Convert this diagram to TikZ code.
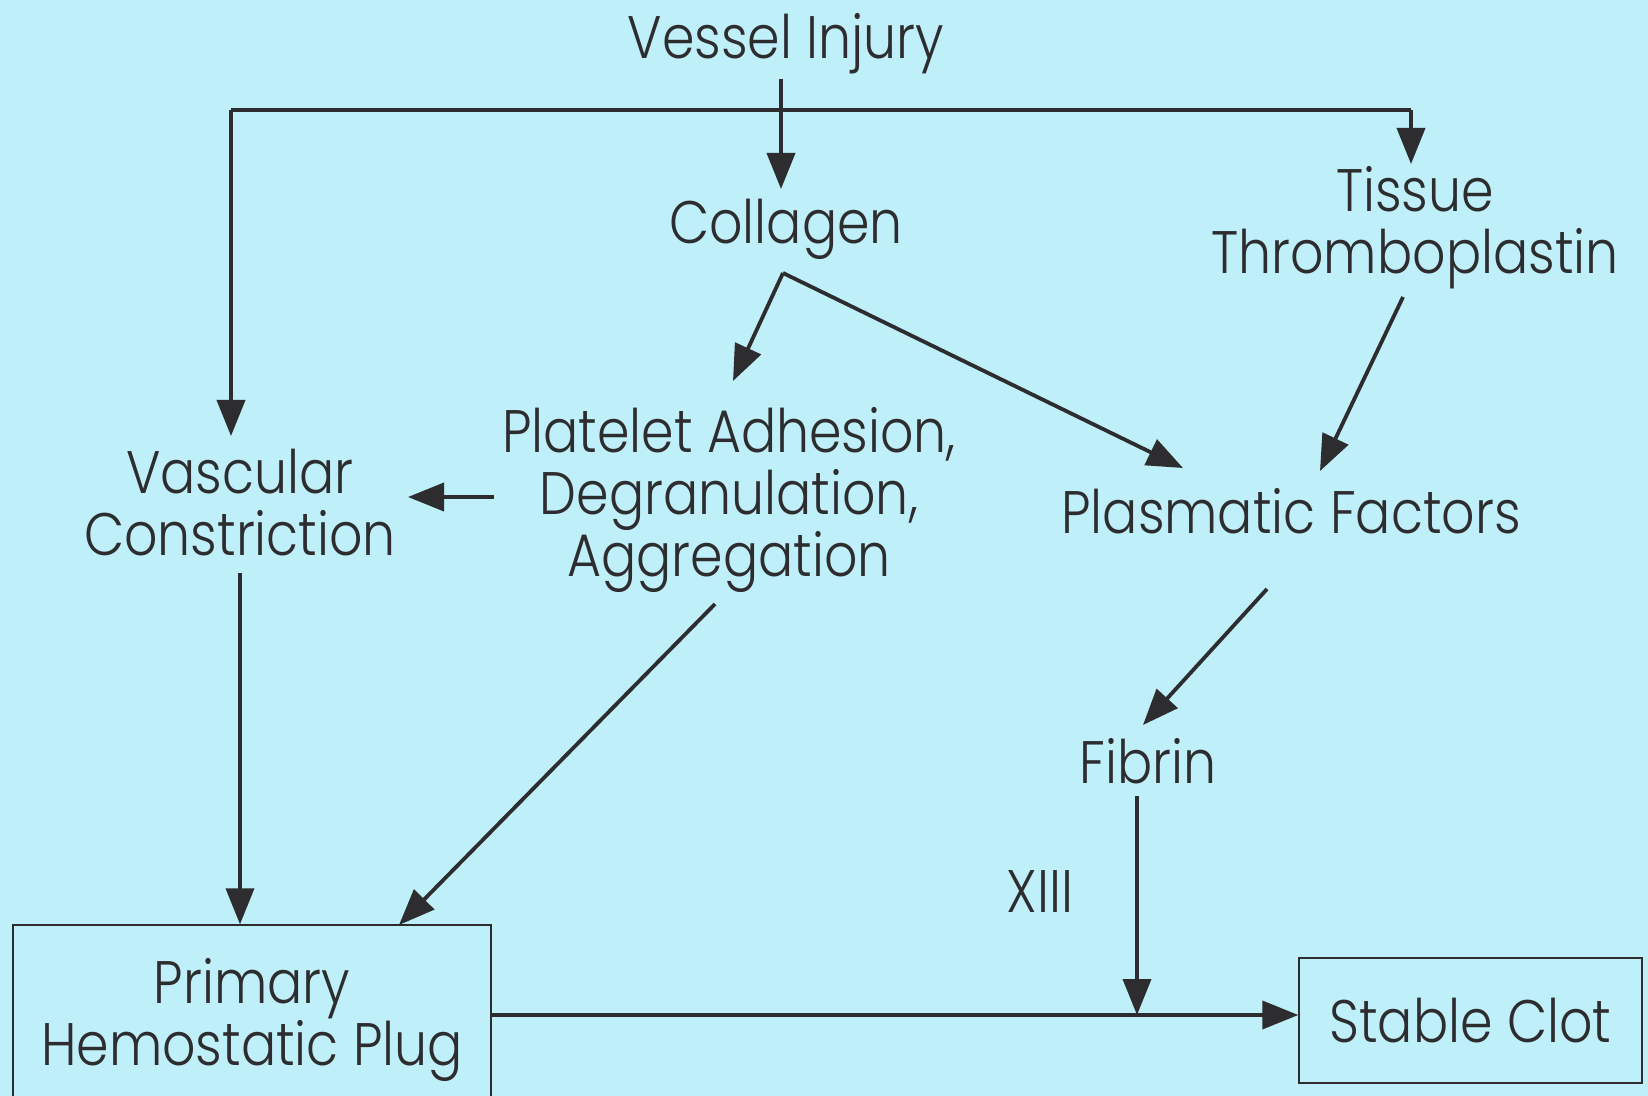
\documentclass[tikz,border=0pt]{standalone}
\usepackage{fontspec}
\setmainfont{Poppins}[UprightFont=* Light, FakeStretch=0.87]
\usetikzlibrary{arrows.meta}
\definecolor{bg}{RGB}{191,239,248}
\definecolor{ink}{RGB}{45,45,48}
\tikzset{
  lbl/.style={font=\fontsize{30}{31}\selectfont, text=ink, inner sep=0pt, align=center},
  arr/.style={draw=ink, line width=1.9pt, -{Triangle[length=18pt,width=14pt]}},
  ln/.style={draw=ink, line width=1.9pt},
  boxed/.style={lbl, draw=ink, line width=0.7pt}
}
\begin{document}
\begin{tikzpicture}[x=0.5pt,y=-0.5pt]
\fill[bg] (0,0) rectangle (1648,1096);
\useasboundingbox (0,0) rectangle (1648,1096);
\begin{scope}
\clip (0,0) rectangle (1648,1096);
% nodes
\node[lbl] (vi) at (786,44) {Vessel Injury};
\node[lbl] (col) at (786,229) {Collagen};
\node[lbl] (tt) at (1415,228) {Tissue\\Thromboplastin};
\node[lbl] (vc) at (240,503) {Vascular\\Constriction};
\node[lbl] (pa) at (729,500) {Platelet Adhesion,\\Degranulation,\\Aggregation};
\node[lbl] (pf) at (1291,511) {Plasmatic Factors};
\node[lbl] (fb) at (1148,761) {Fibrin};
\node[lbl] (x13) at (1040,892) {XIII};
\node[boxed, minimum width=239pt, minimum height=95pt] (ph) at (252,1020) {Primary\\Hemostatic Plug};
\node[boxed, minimum width=171.5pt, minimum height=62.5pt] (sc) at (1470.5,1020.5) {Stable Clot};
\end{scope}
% helper coordinates
\coordinate (viout) at (781,79);
\coordinate (colin) at (781,189);
\coordinate (topL) at (231,110);
\coordinate (topR) at (1411,110);
\coordinate (ttin) at (1411,164);
\coordinate (vcin) at (231,436);
\coordinate (fork) at (783,273);
\coordinate (pain) at (733,381);
\coordinate (pfin1) at (1183,468);
\coordinate (ttout) at (1403,297);
\coordinate (pfin2) at (1320,471);
\coordinate (paout1) at (494,497);
\coordinate (vcin2) at (408,497);
\coordinate (pfout) at (1267,589);
\coordinate (fbin) at (1143,725);
\coordinate (vcout) at (240,573);
\coordinate (paout2) at (715,604);
\coordinate (phin) at (399,925);
\coordinate (mainy) at (0,1015);
\coordinate (fbout) at (1137,796);
% connectors
\draw[ln] (topL) -- (topR);
\draw[arr] (viout) -- (colin);
\draw[arr] (topR) -- (ttin);
\draw[arr] (topL) -- (vcin);
\draw[arr] (fork) -- (pain);
\draw[arr] (fork) -- (pfin1);
\draw[arr] (ttout) -- (pfin2);
\draw[arr] (paout1) -- (vcin2);
\draw[arr] (pfout) -- (fbin);
\draw[arr] (vcout) -- (vcout |- ph.north);
\draw[arr] (paout2) -- (phin);
\draw[arr] (ph.east |- mainy) -- (sc.west |- mainy);
\draw[arr] (fbout) -- (fbout |- mainy);
\end{tikzpicture}
\end{document}
